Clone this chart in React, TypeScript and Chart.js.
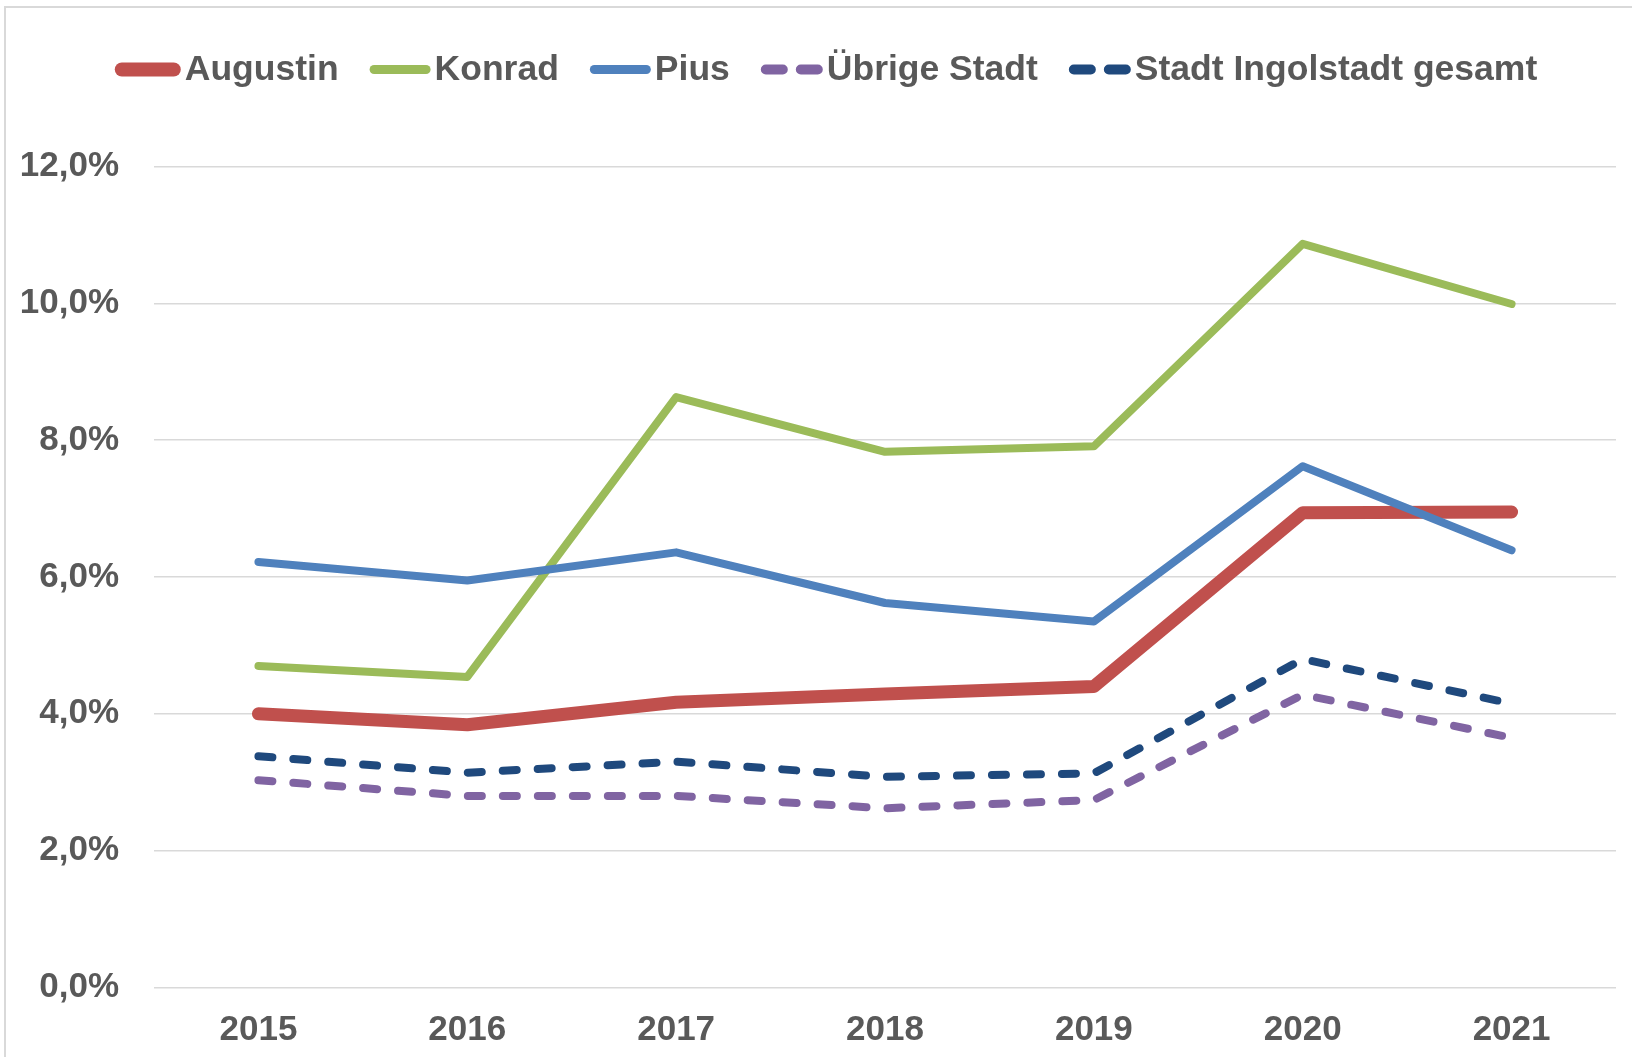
import React, { useEffect, useRef } from "react";
import { Chart, registerables } from "chart.js";

Chart.register(...registerables);

const years = ["2015", "2016", "2017", "2018", "2019", "2020", "2021"];
const augustin = [4.0, 3.84, 4.17, 4.29, 4.4, 6.94, 6.95];
const konrad = [4.7, 4.54, 8.63, 7.83, 7.91, 10.87, 9.99];
const pius = [6.22, 5.95, 6.36, 5.62, 5.35, 7.62, 6.39];
const uebrigeStadt = [3.03, 2.8, 2.8, 2.62, 2.74, 4.28, 3.65];
const stadtGesamt = [3.38, 3.14, 3.3, 3.08, 3.13, 4.8, 4.15];
const seriesNames = ["Augustin", "Konrad", "Pius", "Übrige Stadt", "Stadt Ingolstadt gesamt"];
const yMin = 0;
const yMax = 12;
const yStep = 2;

const FONT = "'Liberation Sans', Arial, sans-serif";
const TEXT_COLOR = "#595959";

const legendPlugin = {
  id: "excelLegend",
  afterDraw(chart: any) {
    const ctx = chart.ctx as CanvasRenderingContext2D;
    const datasets = chart.data.datasets as any[];
    ctx.save();
    ctx.font = `bold 35.5px ${FONT}`;
    const core = 52;
    const gap = 4;
    const spacing = 31;
    const items = datasets.map((ds) => {
      const lw = ds.legendLineWidth as number;
      return { ds, lw, lineLen: core + lw, textW: ctx.measureText(ds.label).width };
    });
    const total =
      items.reduce((s, it) => s + it.lineLen + gap + it.textW, 0) + spacing * (items.length - 1);
    let x = 826 - total / 2;
    const lineY = 69.5;
    const textY = 80;
    items.forEach((it) => {
      ctx.save();
      ctx.strokeStyle = it.ds.borderColor;
      ctx.lineWidth = it.lw;
      ctx.lineCap = "round";
      if (it.ds.borderDash && it.ds.borderDash.length) {
        ctx.setLineDash([17, 18]);
      } else {
        ctx.setLineDash([]);
      }
      ctx.beginPath();
      ctx.moveTo(x + it.lw / 2, lineY);
      ctx.lineTo(x + it.lineLen - it.lw / 2, lineY);
      ctx.stroke();
      ctx.restore();
      x += it.lineLen + gap;
      ctx.fillStyle = TEXT_COLOR;
      ctx.textAlign = "left";
      ctx.textBaseline = "alphabetic";
      ctx.fillText(it.ds.label, x, textY);
      x += it.textW + spacing;
    });
    ctx.restore();
  },
};

export default function App() {
  const ref = useRef<HTMLCanvasElement | null>(null);

  useEffect(() => {
    if (!ref.current) return;
    const values = [augustin, konrad, pius, uebrigeStadt, stadtGesamt];
    const colors = ["#C0504D", "#9BBB59", "#4F81BD", "#8064A2", "#1F497D"];
    const widths = [13, 8, 8, 8, 8];
    const legendWidths = [14, 9, 9, 10, 10];
    const dashed = [false, false, false, true, true];
    const datasets = values.map((vals, i) => ({
      label: seriesNames[i],
      data: vals,
      borderColor: colors[i],
      backgroundColor: colors[i],
      borderWidth: widths[i],
      borderDash: dashed[i] ? [14, 21] : [],
      borderCapStyle: "round",
      borderJoinStyle: "round",
      pointRadius: 0,
      pointHoverRadius: 0,
      fill: false,
      tension: 0,
      order: values.length - i,
      legendLineWidth: legendWidths[i],
    }));

    const chart = new Chart(ref.current, {
      type: "line",
      data: { labels: years, datasets: datasets as any },
      options: {
        responsive: false,
        devicePixelRatio: 1,
        animation: false,
        layout: { padding: { top: 166.5, right: 16, bottom: 0, left: 0 } },
        plugins: {
          legend: { display: false },
          tooltip: { enabled: false },
        },
        scales: {
          x: {
            type: "category",
            offset: true,
            grid: { display: false, drawTicks: false },
            border: { display: false },
            ticks: {
              color: TEXT_COLOR,
              font: { family: FONT, size: 35, weight: "bold" },
              padding: 22,
              maxRotation: 0,
              autoSkip: false,
            },
            afterFit: (s: any) => {
              s.height = 69.5;
            },
          },
          y: {
            min: yMin,
            max: yMax,
            ticks: {
              stepSize: yStep,
              color: TEXT_COLOR,
              font: { family: FONT, size: 35, weight: "bold" },
              padding: 35,
              callback: (v: any) => Number(v).toFixed(1).replace(".", ",") + "%",
            },
            grid: { color: "#d9d9d9", lineWidth: 1.5, drawTicks: false },
            border: { display: false },
            afterFit: (s: any) => {
              s.width = 154;
            },
          },
        },
      },
      plugins: [legendPlugin],
    } as any);
    return () => chart.destroy();
  }, []);

  return (
    <div
      style={{
        position: "fixed",
        left: 0,
        top: 0,
        width: 1632,
        height: 1057,
        overflow: "hidden",
        background: "#ffffff",
      }}
    >
      <div
        style={{
          position: "absolute",
          left: 4,
          top: 6,
          width: 1700,
          height: 1100,
          border: "2px solid #d9d9d9",
        }}
      />
      <canvas
        ref={ref}
        width={1632}
        height={1057}
        style={{ position: "absolute", left: 0, top: 0, width: 1632, height: 1057 }}
      />
    </div>
  );
}
